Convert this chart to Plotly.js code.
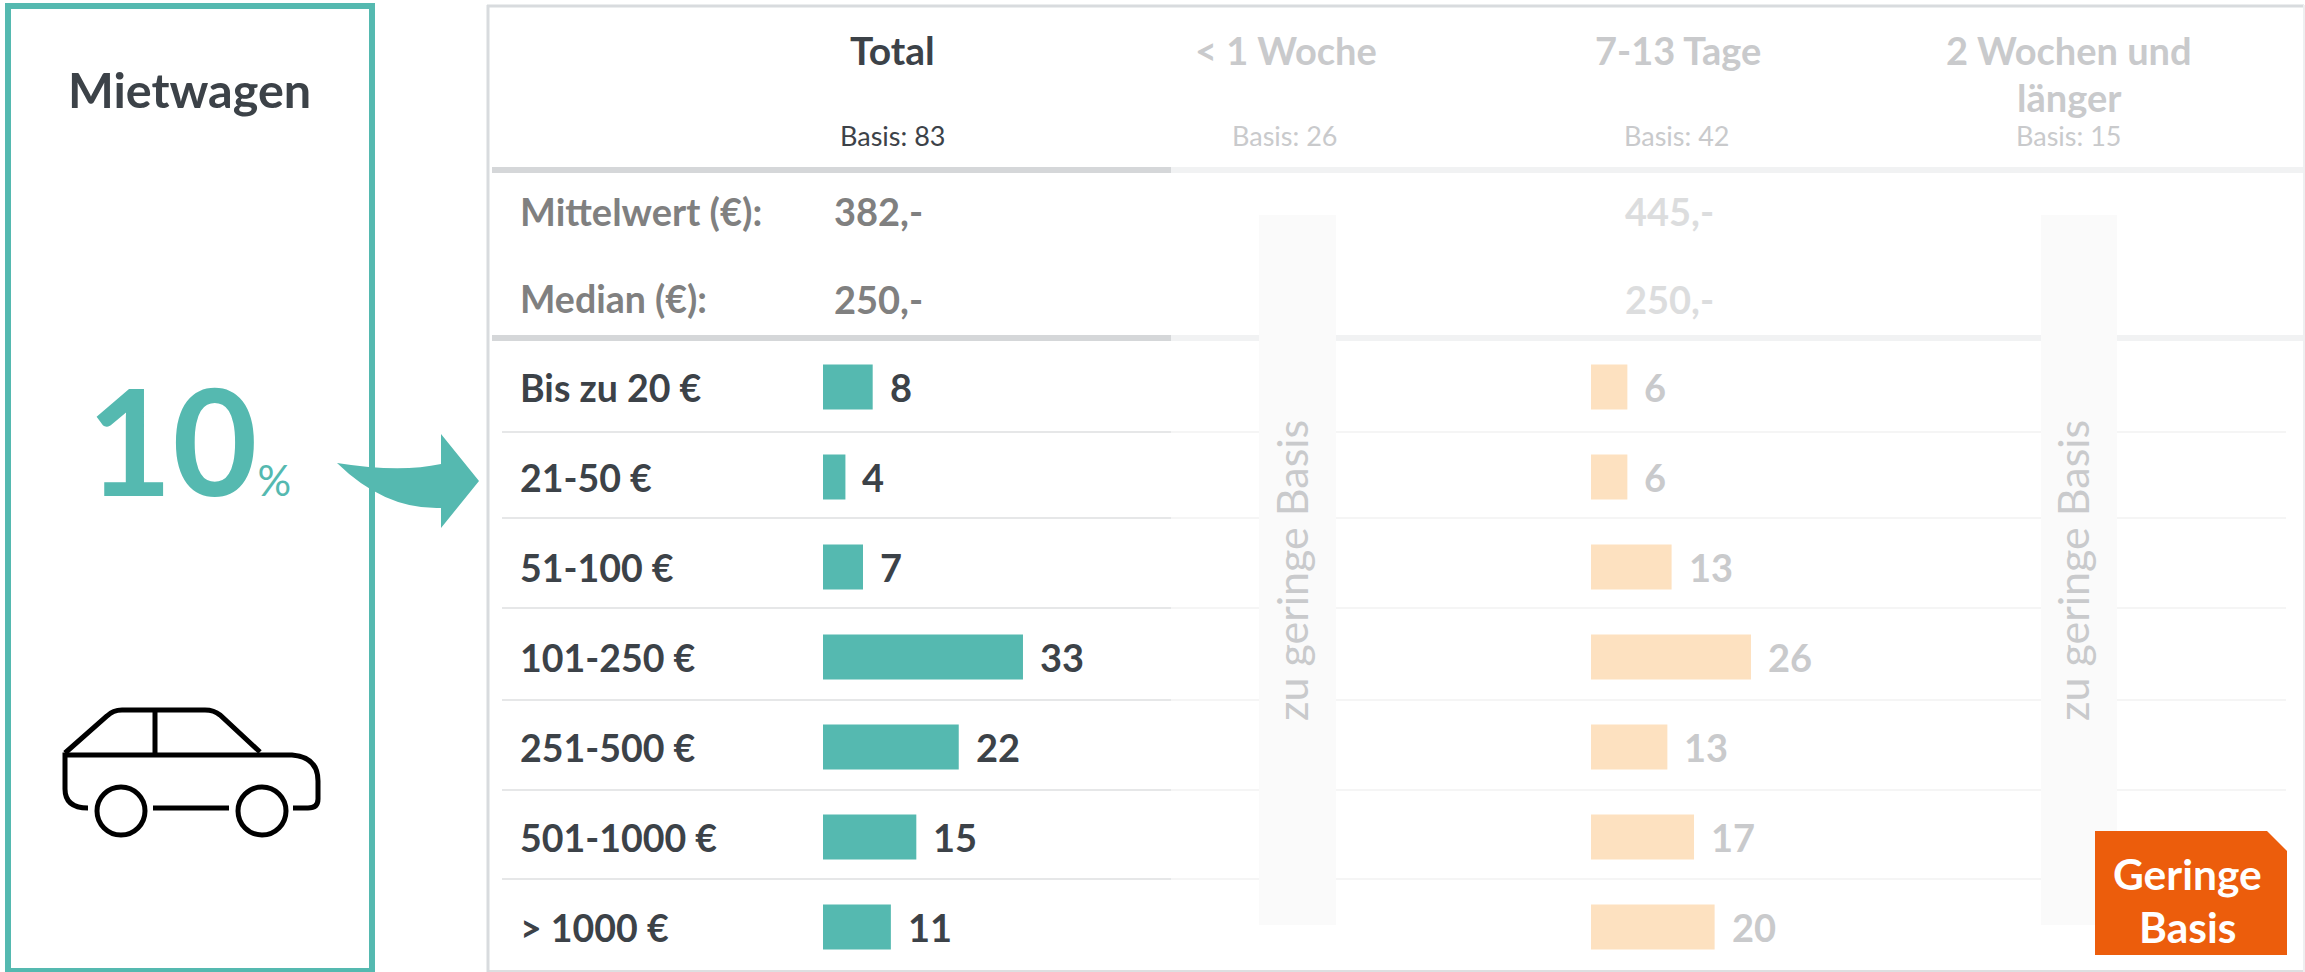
<!DOCTYPE html>
<html>
<head>
<meta charset="utf-8">
<script src="https://cdn.plot.ly/plotly-3.0.1.min.js"></script>
<style>html,body{margin:0;padding:0;background:#fff;overflow:hidden}</style>
</head>
<body>
<div id="chart" style="width:2305px;height:972px"></div>
<script>
const categories = ['Bis zu 20 €','21-50 €','51-100 €','101-250 €','251-500 €','501-1000 €','> 1000 €'];
const totalBars = [8.2,3.7,6.6,33,22.4,15.4,11.2];
const totalLabels = ['8','4','7','33','22','15','11'];
const dayBars = [6,6,13.3,26.4,12.6,17,20.4];
const dayLabels = ['6','6','13','26','13','17','20'];
const headers = ['Total','< 1 Woche','7-13 Tage','2 Wochen und','länger'];
const bases = ['Basis: 83','Basis: 26','Basis: 42','Basis: 15'];
const statLabels = ['Mittelwert (€):','Median (€):'];
const totalStats = ['382,-','250,-'];
const dayStats = ['445,-','250,-'];

const W = 2305, H = 972, FONT = 'Lato, "Liberation Sans", sans-serif';
const TEAL = '#55B9B0', PEACH = '#FDE1C0', DARK = '#3C4248', MID = '#808080', FADE = '#C9CACC', FADE2 = '#DCDDDE';

function hbar(values, labels, color, xa) {
  return {type:'bar', orientation:'h', y:categories, x:values, xaxis:xa, yaxis:'y',
    marker:{color:color, line:{width:0}}, width:0.5, hoverinfo:'skip', showlegend:false, customdata:labels};
}
const data = [
  hbar(totalBars, totalLabels, TEAL, 'x'),
  hbar(dayBars, dayLabels, PEACH, 'x2')
];

function T(text, x, y, size, color, weight, anchor, extra) {
  return Object.assign({xref:'x3', yref:'y3', x:x, y:y, text:text, showarrow:false,
    xanchor:anchor||'left', yanchor:'middle',
    font:{family:FONT, size:size, color:color, weight:weight||400}}, extra||{});
}
function R(x0,y0,x1,y1,fill,line,lw) {
  return {type:'rect', xref:'x3', yref:'y3', x0,y0,x1,y1,
    fillcolor:fill||'rgba(0,0,0,0)', line:{color:line||'rgba(0,0,0,0)', width:lw||0}};
}
function L(x0,y,x1,color,w) {
  return {type:'line', xref:'x3', yref:'y3', x0, x1, y0:y, y1:y, line:{color, width:w}};
}
function P(path, fill, line, lw) {
  return {type:'path', xref:'x3', yref:'y3', path, fillcolor:fill||'rgba(0,0,0,0)',
    line:{color:line||'rgba(0,0,0,0)', width:lw||0}};
}
function C(cx,cy,r) {
  return {type:'circle', xref:'x3', yref:'y3', x0:cx-r,x1:cx+r,y0:cy-r,y1:cy+r,
    fillcolor:'rgba(0,0,0,0)', line:{color:'#000', width:5}};
}

const shapes = [
  R(8,6,372,971,null,TEAL,6),
  P('M337 463 Q400 473 441 464 L441 434 L479 481 L441 528 L441 508 Q385 510 337 463 Z',TEAL),
  P('M65 753 L107 716 Q113 710 122 710 L205 710 Q214 710 220 715 L260 752',null,'#000',5),
  P('M88 808 Q65 808 65 789 L65 755 L292 755 Q318 757 318 781 L318 799 Q318 808 308 808 L293 808',null,'#000',5),
  L(153,808,229,'#000',5),
  {type:'line',xref:'x3',yref:'y3',x0:155,x1:155,y0:710,y1:755,line:{color:'#000',width:5}},
  C(121,811,24), C(262,811,24),
  L(487,6,2304,'#D8DBDE',3),
  L(487,971,2304,'#DDDFE1',2),
  {type:'line',xref:'x3',yref:'y3',x0:488,x1:488,y0:5,y1:972,line:{color:'#D8DBDE',width:3}},
  {type:'line',xref:'x3',yref:'y3',x0:2304,x1:2304,y0:5,y1:972,line:{color:'#EEEFF0',width:2}}
];
[170,338].forEach(y => {
  shapes.push(L(492,y,1171,'#D5D7D9',6));
  shapes.push(L(1171,y,2303,'#F1F2F3',6));
});
[432,518,608,700,790,879].forEach(y => {
  shapes.push(L(502,y,1171,'#E6E7E8',2));
  shapes.push(L(1171,y,2286,'#F5F5F5',2));
});
shapes.push(R(1259,215,1336,925,'#FAFAFA'));
shapes.push(R(2041,215,2117,925,'#FAFAFA'));
shapes.push(P('M2095 831 L2267 831 L2287 851 L2287 955 L2095 955 Z','#EC5D0C'));

const annotations = [
  T('Mietwagen',189,89,48.5,'#3C4248',700,'center'),
  T('10<span style="font-size:42px;font-weight:400">%</span>',189,439,147,TEAL,700,'center'),
  T(headers[0],892,49.5,39,DARK,700,'center'),
  T(headers[1],1286,49.5,38,FADE,700,'center'),
  T(headers[2],1678,49.5,38,FADE,700,'center'),
  T(headers[3],2069,49.5,38,FADE,700,'center'),
  T(headers[4],2069,96.5,38,FADE,700,'center'),
  T(bases[0],893,135.5,27,DARK,400,'center'),
  T(bases[1],1285,135.5,27,FADE,400,'center'),
  T(bases[2],1677,135.5,27,FADE,400,'center'),
  T(bases[3],2069,135.5,27,FADE,400,'center'),
  T(statLabels[0],518,210.5,38,MID,700),
  T(statLabels[1],518,298.5,37.5,MID,700),
  T(totalStats[0],832,210.5,38,MID,700),
  T(totalStats[1],832,298.5,38,MID,700),
  T(dayStats[0],1623,210.5,38,FADE2,700),
  T(dayStats[1],1623,298.5,38,FADE2,700),
  T('zu geringe Basis',1291,571,43,FADE,400,'center',{textangle:-90}),
  T('zu geringe Basis',2072,571,43,FADE,400,'center',{textangle:-90}),
  T('Geringe',2187,873.5,42.5,'#FFFFFF',700,'center'),
  T('Basis',2187,926.5,42.5,'#FFFFFF',700,'center')
];
categories.forEach((c,i) => {
  annotations.push({xref:'x3', yref:'y', x:518, y:c, text:c, showarrow:false, xanchor:'left', yanchor:'middle', yshift:0,
    font:{family:FONT,size:37.5,color:DARK,weight:700}});
  annotations.push({xref:'x', yref:'y', x:totalBars[i], y:c, text:totalLabels[i], showarrow:false, xanchor:'left', yanchor:'middle', xshift:15, yshift:0.5,
    font:{family:FONT,size:38,color:DARK,weight:700}});
  annotations.push({xref:'x2', yref:'y', x:dayBars[i], y:c, text:dayLabels[i], showarrow:false, xanchor:'left', yanchor:'middle', xshift:15, yshift:0.5,
    font:{family:FONT,size:38,color:FADE,weight:700}});
});

const PX_UNIT = 6.06, AXW = 303;
const hidden = {visible:false, showgrid:false, zeroline:false, fixedrange:true};
const layout = {
  width:W, height:H, margin:{l:0,r:0,t:0,b:0,pad:0},
  paper_bgcolor:'#fff', plot_bgcolor:'rgba(0,0,0,0)', showlegend:false, bargap:0.5,
  font:{family:FONT},
  xaxis:Object.assign({},hidden,{domain:[823/W,(823+AXW)/W], range:[0,AXW/PX_UNIT], anchor:'y'}),
  xaxis2:Object.assign({},hidden,{domain:[1591/W,(1591+AXW)/W], range:[0,AXW/PX_UNIT], anchor:'y'}),
  yaxis:Object.assign({},hidden,{domain:[0,1-342/H], type:'category', categoryorder:'array', categoryarray:categories, range:[6.5,-0.5], anchor:'x'}),
  xaxis3:Object.assign({},hidden,{domain:[0,1], range:[0,W], anchor:'y3'}),
  yaxis3:Object.assign({},hidden,{domain:[0,1], range:[H,0], anchor:'x3'}),
  shapes, annotations
};
Plotly.newPlot('chart', data, layout, {displayModeBar:false, responsive:false});
</script>
</body>
</html>
